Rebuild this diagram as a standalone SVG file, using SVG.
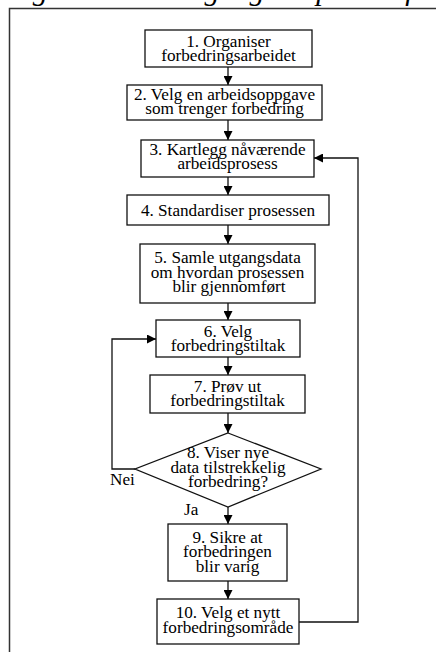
<svg xmlns="http://www.w3.org/2000/svg" width="436" height="652" viewBox="0 0 436 652" font-family="'Liberation Serif', 'Times New Roman', serif">
<style>
.box{fill:#fff;stroke:#111;stroke-width:1.3}
.ln{fill:none;stroke:#111;stroke-width:1.3}
.t{font-family:'Liberation Serif','Times New Roman',serif;font-size:17.2px;fill:#000;text-anchor:middle}
.lbl{text-anchor:start}
.title{font-size:30px;font-style:italic;text-anchor:start}
</style>
<defs>
<marker id="ah" viewBox="0 0 10 10" refX="10" refY="5" markerWidth="9" markerHeight="9" markerUnits="userSpaceOnUse" orient="auto">
<path d="M0,0 L10,5 L0,10 z" fill="#000"/>
</marker>
</defs>
<rect width="436" height="652" fill="#fff"/>
<text class="t title" x="6" y="0">Figur 1. Arbeidsgangen i prosessforbedring</text>
<rect x="9.5" y="8.5" width="440" height="660" fill="none" stroke="#333" stroke-width="1.5"/>
<g id="connectors" class="ln">
<line x1="228" y1="67" x2="228" y2="85" marker-end="url(#ah)"/>
<line x1="228" y1="120" x2="228" y2="140" marker-end="url(#ah)"/>
<line x1="228" y1="177" x2="228" y2="195" marker-end="url(#ah)"/>
<line x1="228" y1="225" x2="228" y2="244" marker-end="url(#ah)"/>
<line x1="228" y1="303" x2="228" y2="320" marker-end="url(#ah)"/>
<line x1="228" y1="357" x2="228" y2="375" marker-end="url(#ah)"/>
<line x1="228" y1="413" x2="228" y2="433" marker-end="url(#ah)"/>
<line x1="228" y1="507" x2="228" y2="524" marker-end="url(#ah)"/>
<line x1="228" y1="581" x2="228" y2="599" marker-end="url(#ah)"/>
<polyline points="135,469 112,469 112,339 156,339" marker-end="url(#ah)"/>
<polyline points="299,622 358,622 358,158 314,158" marker-end="url(#ah)"/>
</g>
<g id="n1"><rect class="box" x="145" y="30" width="167" height="37"/><text class="t" x="228.5" y="47">1. Organiser</text><text class="t" x="228.5" y="61">forbedringsarbeidet</text></g>
<g id="n2"><rect class="box" x="127" y="85" width="195" height="35"/><text class="t" x="224.5" y="100">2. Velg en arbeidsoppgave</text><text class="t" x="224.5" y="114">som trenger forbedring</text></g>
<g id="n3"><rect class="box" x="141" y="140" width="173" height="37"/><text class="t" x="227.5" y="155">3. Kartlegg nåværende</text><text class="t" x="227.5" y="169">arbeidsprosess</text></g>
<g id="n4"><rect class="box" x="127" y="195" width="202" height="30"/><text class="t" x="228" y="216">4. Standardiser prosessen</text></g>
<g id="n5"><rect class="box" x="140" y="244" width="175" height="59"/><text class="t" x="227.5" y="263">5. Samle utgangsdata</text><text class="t" x="227.5" y="278">om hvordan prosessen</text><text class="t" x="229" y="292">blir gjennomført</text></g>
<g id="n6"><rect class="box" x="156" y="320" width="144" height="37"/><text class="t" x="228" y="337">6. Velg</text><text class="t" x="228" y="351">forbedringstiltak</text></g>
<g id="n7"><rect class="box" x="150" y="375" width="155" height="38"/><text class="t" x="227.5" y="392">7. Prøv ut</text><text class="t" x="227.5" y="406">forbedringstiltak</text></g>
<g id="n8"><polygon class="box" points="228,433 321,469 228,507 135,469"/><text class="t" x="228" y="458">8. Viser nye</text><text class="t" x="228" y="473">data tilstrekkelig</text><text class="t" x="228" y="487">forbedring?</text></g>
<g id="n9"><rect class="box" x="168" y="524" width="119" height="57"/><text class="t" x="227.5" y="543">9. Sikre at</text><text class="t" x="227.5" y="557">forbedringen</text><text class="t" x="227.5" y="572">blir varig</text></g>
<g id="n10"><rect class="box" x="157" y="599" width="142" height="45"/><text class="t" x="228" y="618">10. Velg et nytt</text><text class="t" x="228" y="633">forbedringsområde</text></g>
<g id="labels"><text class="t lbl" x="110" y="485">Nei</text><text class="t lbl" x="184" y="515">Ja</text></g>
</svg>
